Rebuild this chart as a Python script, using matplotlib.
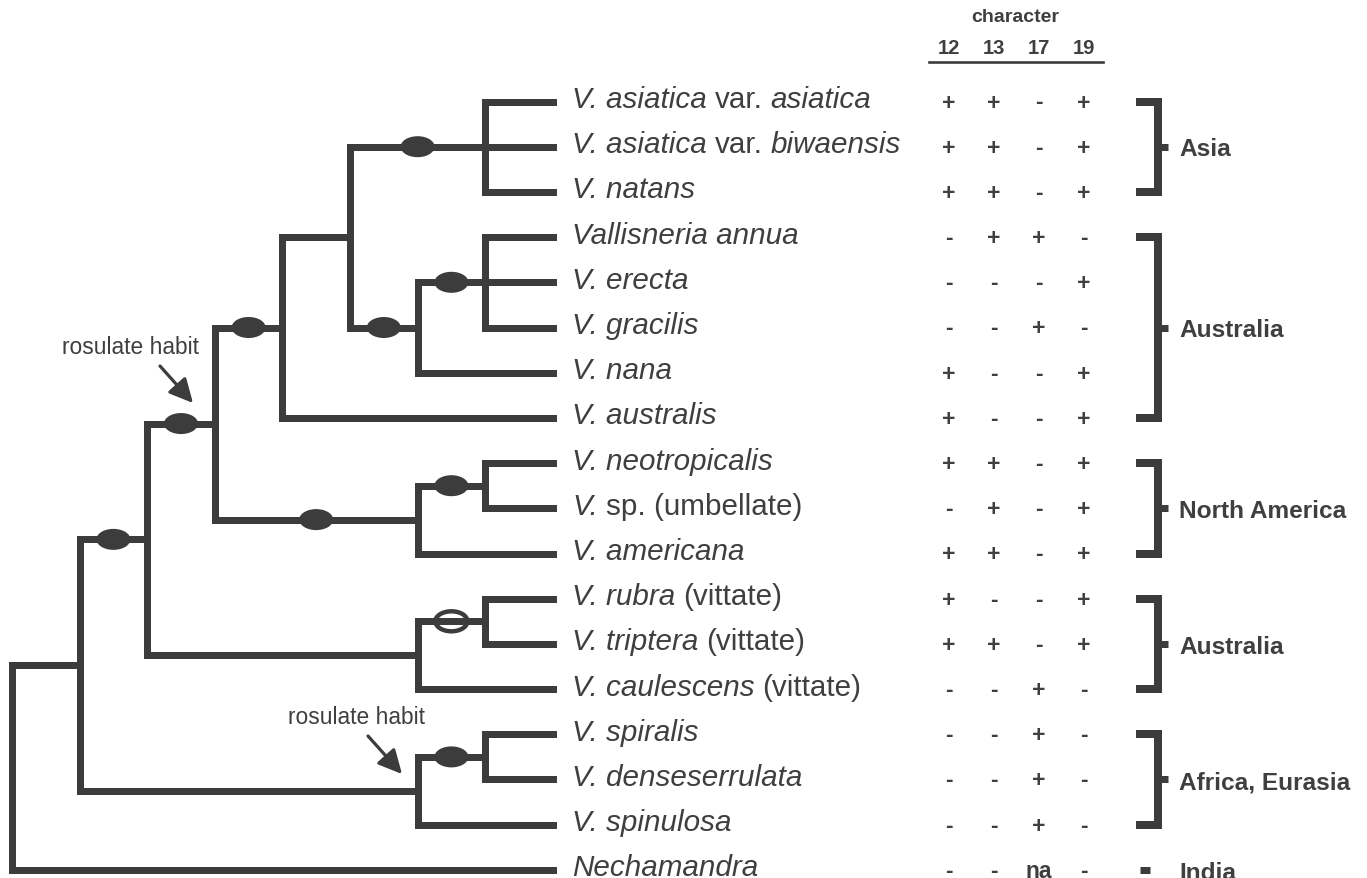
import numpy as np
import matplotlib.pyplot as plt
from matplotlib.patches import Ellipse

plt.rcParams['font.family'] = ['Liberation Sans', 'DejaVu Sans']

# taxa, top to bottom; each label is a list of (text, italic) pieces
taxa = [
    [('V. asiatica', True), ('var.', False), ('asiatica', True)],
    [('V. asiatica', True), ('var.', False), ('biwaensis', True)],
    [('V. natans', True)],
    [('Vallisneria annua', True)],
    [('V. erecta', True)],
    [('V. gracilis', True)],
    [('V. nana', True)],
    [('V. australis', True)],
    [('V. neotropicalis', True)],
    [('V.', True), ('sp. (umbellate)', False)],
    [('V. americana', True)],
    [('V. rubra', True), ('(vittate)', False)],
    [('V. triptera', True), ('(vittate)', False)],
    [('V. caulescens', True), ('(vittate)', False)],
    [('V. spiralis', True)],
    [('V. denseserrulata', True)],
    [('V. spinulosa', True)],
    [('Nechamandra', True)],
]

char_names = ['12', '13', '17', '19']
char_states = [
    ['+', '+', '-', '+'],
    ['+', '+', '-', '+'],
    ['+', '+', '-', '+'],
    ['-', '+', '+', '-'],
    ['-', '-', '-', '+'],
    ['-', '-', '+', '-'],
    ['+', '-', '-', '+'],
    ['+', '-', '-', '+'],
    ['+', '+', '-', '+'],
    ['-', '+', '-', '+'],
    ['+', '+', '-', '+'],
    ['+', '-', '-', '+'],
    ['+', '+', '-', '+'],
    ['-', '-', '+', '-'],
    ['-', '-', '+', '-'],
    ['-', '-', '+', '-'],
    ['-', '-', '+', '-'],
    ['-', '-', 'na', '-'],
]

# clades: children (taxon index or clade name), cladogram level
clades = {
    'asia': ([0, 1, 2], 7),
    'aus_a': ([3, 4, 5], 7),
    'aus_b': (['aus_a', 6], 6),
    'asia_aus': (['asia', 'aus_b'], 5),
    'aus_c': (['asia_aus', 7], 4),
    'na_a': ([8, 9], 7),
    'na_b': (['na_a', 10], 6),
    'ros': (['aus_c', 'na_b'], 3),
    'vit_a': ([11, 12], 7),
    'vit_b': (['vit_a', 13], 6),
    'val1': (['ros', 'vit_b'], 2),
    'afr_a': ([14, 15], 7),
    'afr_b': (['afr_a', 16], 6),
    'val': (['val1', 'afr_b'], 1),
    'root': (['val', 17], 0),
}
stem_marks = {'asia': 'filled', 'aus_a': 'filled', 'aus_b': 'filled', 'aus_c': 'filled',
              'ros': 'filled', 'na_a': 'filled', 'na_b': 'filled', 'vit_a': 'open',
              'afr_a': 'filled', 'val1': 'filled'}

regions = ['Asia', 'Australia', 'North America', 'Australia', 'Africa, Eurasia', 'India']
region_rows = [(0, 2), (3, 7), (8, 10), (11, 13), (14, 16), (17, 17)]

# layout (pixels)
W, H = 1367, 879
dark = '#3c3c3c'
txt = '#3f3f3f'
row0, drow = 102.5, 45.2
lev0, dlev = 12, 67.6
tip_x = 553
lw_tree = 7 * 0.72
col_x = [949, 994, 1039, 1084]
label_fs = 21.3
space_px = 8

fig = plt.figure(figsize=(W / 100, H / 100), dpi=100)
ax = fig.add_axes([0, 0, 1, 1])
ax.set_xlim(0, W)
ax.set_ylim(H, 0)
ax.axis('off')

def row_y(i):
    return row0 + drow * i

def node_pos(n):
    if isinstance(n, int):
        return tip_x, row_y(n)
    kids, lev = clades[n]
    ys = [node_pos(k)[1] for k in kids]
    return lev0 + dlev * lev, (min(ys) + max(ys)) / 2

for name, (kids, lev) in clades.items():
    x, y = node_pos(name)
    ys = [node_pos(k)[1] for k in kids]
    ax.plot([x, x], [min(ys), max(ys)], color=dark, lw=lw_tree, solid_capstyle='projecting', zorder=2)
    for k in kids:
        kx, ky = node_pos(k)
        ax.plot([x, kx], [ky, ky], color=dark, lw=lw_tree, solid_capstyle='projecting', zorder=2)
        if k in stem_marks:
            mx = (x + kx) / 2
            if stem_marks[k] == 'filled':
                ax.add_patch(Ellipse((mx, ky), 34, 21, facecolor=dark, edgecolor='none', zorder=3))
            else:
                ax.add_patch(Ellipse((mx, ky), 32, 20, facecolor='white', edgecolor=dark, lw=3.2, zorder=1.5))

# taxon labels, piece by piece
renderer = fig.canvas.get_renderer()
for i, pieces in enumerate(taxa):
    x = 572
    for s, it in pieces:
        t = ax.text(x, row_y(i) + 5.5, s, fontsize=label_fs, color=txt, ha='left', va='baseline',
                    style='italic' if it else 'normal')
        bb = t.get_window_extent(renderer)
        x += bb.width + space_px

# character table
ax.text(1015, 18, 'character', fontsize=14, fontweight='bold', color=txt, ha='center', va='center')
for cx, cn in zip(col_x, char_names):
    ax.text(cx, 49, cn, fontsize=14.5, fontweight='bold', color=txt, ha='center', va='center')
ax.plot([929, 1103], [63, 63], color=dark, lw=1.9)
for i, states in enumerate(char_states):
    for cx, s in zip(col_x, states):
        ax.text(cx, row_y(i) + 7, s, fontsize=16.5, fontweight='bold', color=txt, ha='center', va='baseline')

# geographic brackets
for reg, (r0, r1) in zip(regions, region_rows):
    y0, y1 = row_y(r0), row_y(r1)
    ym = (y0 + y1) / 2
    if r0 == r1:
        ax.plot([1140, 1150], [ym, ym], color=dark, lw=7 * 0.72, solid_capstyle='butt')
    else:
        ax.plot([1136, 1158, 1158, 1136], [y0, y0, y1, y1], color=dark, lw=8 * 0.72,
                solid_joinstyle='miter', solid_capstyle='butt')
        ax.plot([1158, 1168], [ym, ym], color=dark, lw=7 * 0.72, solid_capstyle='butt')
    ax.text(1179, ym + 8.8, reg, fontsize=17.6, fontweight='bold', color=txt, ha='left', va='baseline')

# rosulate habit annotations
for (tx, ty), tail, head in [((130, 348), (160, 367), (193, 404)),
                             ((357, 718), (368, 737), (402, 775))]:
    ax.text(tx, ty, 'rosulate habit', fontsize=16.4, color=txt, ha='center', va='center')
    ax.annotate('', xy=head, xytext=tail,
                arrowprops=dict(arrowstyle='-|>,head_length=0.8,head_width=0.4', lw=2.3,
                                color=dark, mutation_scale=18, shrinkA=0, shrinkB=0))

fig.savefig('out.png', dpi=100, facecolor='white')
